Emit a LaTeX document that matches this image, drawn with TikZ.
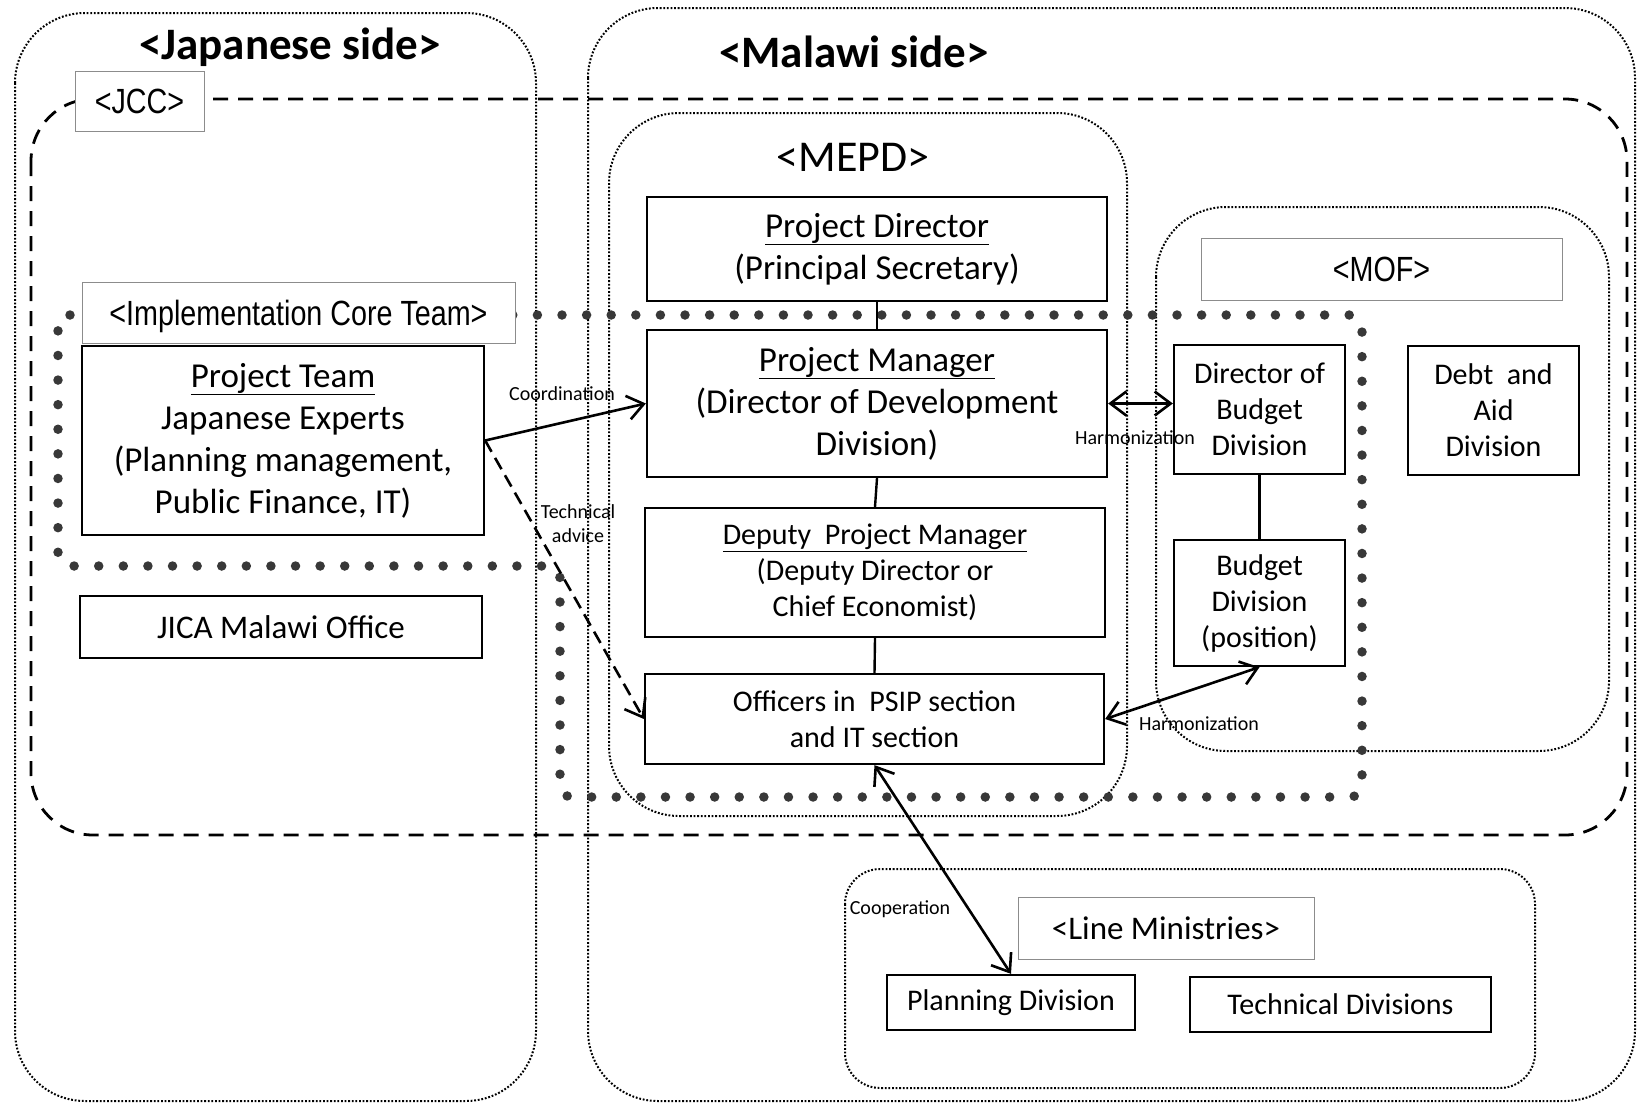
\documentclass[tikz,border=0pt]{standalone}
\usepackage{fontspec}
\setmainfont{Carlito}
\newfontfamily\narrowfont[FakeStretch=0.82]{Liberation Sans}
\usetikzlibrary{arrows.meta}
\tikzset{
  box/.style={draw, line width=2.3pt, fill=white, inner sep=0pt, align=center, font=\fontsize{35}{42}\selectfont},
  smallbox/.style={box, font=\fontsize{30}{36}\selectfont},
  lbl/.style={draw=black!45, line width=1pt, fill=white, inner sep=0pt, text depth=0pt, font=\narrowfont\fontsize{35}{42}\selectfont},
  region/.style={draw=black, line width=2pt, dash pattern=on 1.8pt off 1.8pt, rounded corners=70pt},
  jccline/.style={draw, line width=2.8pt, dash pattern=on 15pt off 10pt, rounded corners=62pt},
  coreteam/.style={draw=black!78, line width=9.5pt, dash pattern=on 0pt off 24.6pt, line cap=round, rounded corners=12pt},
  conn/.style={line width=2.4pt},
  tip/.tip={Straight Barb[length=16pt, width=24pt, line width=2.6pt]},
  arr/.style={line width=2.6pt, -tip},
  darr/.style={line width=2.6pt, tip-tip},
  note/.style={font=\fontsize{20}{24}\selectfont, inner sep=0pt, align=center},
  title/.style={font=\bfseries\fontsize{45}{54}\selectfont, inner sep=0pt},
}
\begin{document}
\begin{tikzpicture}[x=1pt, y=-1pt]
\useasboundingbox (0,0) rectangle (1640,1106);
% regions
\draw[region] (15,13) rectangle (536,1101);
\draw[region] (588,8) rectangle (1635,1101);
\draw[region] (609,113) rectangle (1127,816);
\draw[region] (1156,207) rectangle (1609,751);
\draw[region, rounded corners=35pt] (845,869) rectangle (1535,1088);
% JCC dashed
\draw[jccline] (31,99) rectangle (1627,835);
% core team dots
\draw[coreteam] (58,315) -- (1362,315) -- (1362,797) -- (560,797) -- (560,566) -- (58,566) -- cycle;
% titles
\node[title] (jside) at (290,47) {<Japanese side>};
\node[title] (mside) at (854,52) {<Malawi side>};
\node[inner sep=0pt, font=\fontsize{44}{52}\selectfont] (mepd) at (853,157) {<MEPD>};
% label boxes
\node[lbl, minimum width=129pt, minimum height=60pt] (jcc) at (139.5,101) {<JCC>};
\node[lbl, minimum width=433pt, minimum height=61pt] (ict) at (298.5,312.5) {<Implementation Core Team>};
\node[lbl, minimum width=361pt, minimum height=62pt] (mof) at (1381.5,269) {<MOF>};
\node[lbl, minimum width=296pt, minimum height=62pt, font=\fontsize{33}{40}\selectfont] (lm) at (1166,928) {<Line Ministries>};
% boxes
\node[box, minimum width=460pt, minimum height=104pt] (pd) at (877,249) {\underline{Project Director}\\(Principal Secretary)};
\node[box, minimum width=460pt, minimum height=147pt] (pm) at (877,403.5) {\underline{Project Manager}\\(Director of Development\\Division)};
\node[smallbox, minimum width=460pt, minimum height=129pt] (dpm) at (875,572.5) {\underline{Deputy~ Project Manager}\\(Deputy Director or\\Chief Economist)};
\node[smallbox, minimum width=459pt, minimum height=90pt] (off) at (874.5,719) {Officers in~ PSIP section\\and IT section};
\node[smallbox, minimum width=171pt, minimum height=129pt] (dbd) at (1259.5,409.5) {Director of\\Budget\\Division};
\node[smallbox, minimum width=171pt, minimum height=126pt] (bdp) at (1259.5,603) {Budget\\Division\\(position)};
\node[smallbox, minimum width=171pt, minimum height=129pt] (debt) at (1493.5,410.5) {Debt~ and\\Aid\\Division};
\node[box, minimum width=402pt, minimum height=189pt] (pt) at (283,440.5) {\underline{Project Team}\\Japanese Experts\\(Planning management,\\Public Finance, IT)};
\node[box, minimum width=402pt, minimum height=62pt, font=\fontsize{33}{40}\selectfont] (jica) at (281,627) {JICA Malawi Office};
\node[smallbox, minimum width=248pt, minimum height=55pt] (plan) at (1011,1002.5) {Planning Division};
\node[smallbox, minimum width=301pt, minimum height=55pt] (tech) at (1340.5,1004.5) {Technical Divisions};
% connectors
\draw[conn] (pd.south) -- (pm.north);
\draw[conn] (pm.south) -- (dpm.north);
\draw[conn] (dpm.south) -- (off.north);
\draw[conn] (dbd.south) -- (bdp.north);
\draw[arr] (pt.east) -- (pm.west);
\draw[arr, dash pattern=on 13pt off 7pt] (pt.east) -- (off.west);
\draw[darr] (pm.east) -- (pm.east -| dbd.west);
\draw[darr] (off.east) -- (bdp.south);
\draw[darr] (off.south) -- (plan.north);
% connector labels
\node[note] (lcoord) at (562,394) {Coordination};
\node[note] (ltech) at (578,524) {Technical\\advice};
\node[note] (lharm1) at (1135,438) {Harmonization};
\node[note] (lharm2) at (1199,724) {Harmonization};
\node[note] (lcoop) at (900,909) {Cooperation};
\end{tikzpicture}
\end{document}
